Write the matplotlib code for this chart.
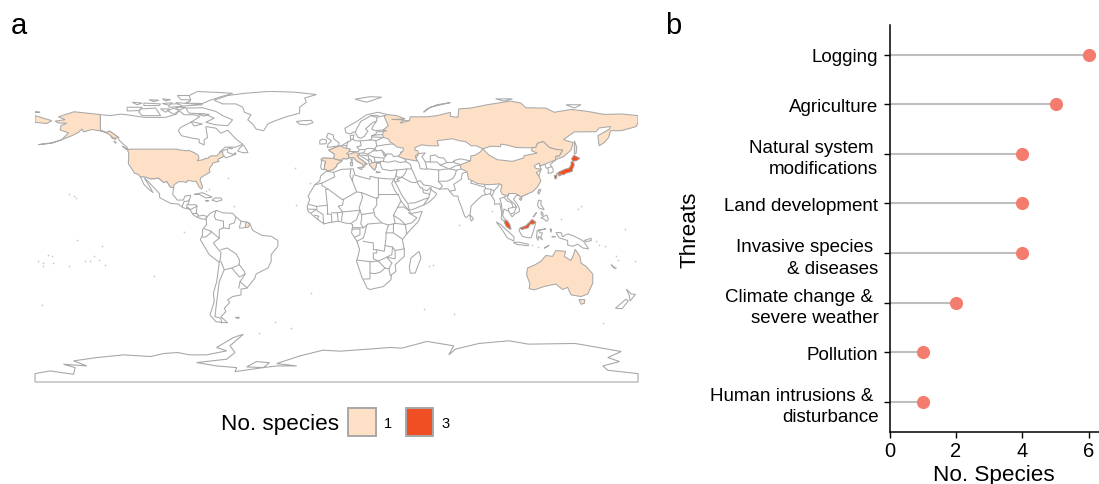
import matplotlib
matplotlib.use("Agg")
import matplotlib.pyplot as plt
from matplotlib.patches import Rectangle

plt.rcParams["font.family"] = ["Liberation Sans", "DejaVu Sans"]

threats = ["Logging", "Agriculture", "Natural system \nmodifications", "Land development",
           "Invasive species \n& diseases", "Climate change & \nsevere weather", "Pollution",
           "Human intrusions & \ndisturbance"]
species_counts = [6, 5, 4, 4, 4, 2, 1, 1]
x_ticks = [0, 2, 4, 6]
legend_levels = ["1", "3"]

# outlines in lon/lat
white_land = [
    # canada
    [(-141,69.6),(-135,69),(-129,69.9),(-125,69.5),(-115,68),(-109,67.9),(-102,68),(-95.5,69.9),(-94,72),(-91,69.5),(-85,69.5),(-81.5,68.5),(-87,65),(-93,62),(-94.5,60),(-92.5,57),(-85,55.3),(-82,55),(-82,52.9),(-79,51.5),(-79,54.5),(-77,56),(-78,62.5),(-72,61.5),(-69,58.5),(-65,60.3),(-60,55),(-56,52),(-60,50.2),(-66.5,50.2),(-70,47),(-65,49.2),(-65,47),(-61,45.7),(-66,43.7),(-67,44.8),(-74,42),(-95,42),(-123,45),(-125,50),(-130,54.5),(-130,55.9),(-135.5,59.8),(-137.5,58.9),(-141,60.3)],
    # mexico and central america
    [(-117.1,32.5),(-114.8,32.5),(-111,31.3),(-108.2,31.4),(-106.5,31.8),(-104.9,30.6),(-103.1,29),(-101.4,29.8),(-99.2,26.4),(-97.2,25.9),(-97.8,22),(-95,18.6),(-91.5,18.6),(-90.4,21),(-87,21.5),(-88,18),(-88.8,15.8),(-84,15.8),(-83.3,15),(-83.7,11),(-82,9),(-79.5,9.6),(-77.3,8.7),(-77.9,7.2),(-80.3,7.3),(-83,8.2),(-85.7,10),(-87.5,13),(-91.5,14),(-94.5,16.2),(-99,16.6),(-105.5,20),(-105.7,22.5),(-109,26),(-112.7,30),(-114.7,31.7),(-112,27.5),(-109.5,23),(-112,25),(-115,28)],
    # south america
    [(-77.3,8.7),(-75,11),(-71.5,12.4),(-68,11),(-62,10.7),(-60,8.5),(-57,6),(-52,4.9),(-50,0.5),(-44.5,-2.5),(-39,-3),(-35,-5.5),(-35,-9),(-39,-14),(-39,-18),(-41,-22),(-48,-25.5),(-48.7,-28),(-53.5,-34),(-57,-34.5),(-57,-38),(-62,-39),(-65,-41),(-63.7,-42.5),(-67,-46),(-66,-48),(-69,-51),(-65,-54.7),(-72,-54),(-75.5,-50),(-73,-42),(-73.5,-37),(-71.5,-30),(-70,-18.5),(-76,-14),(-81.3,-5),(-80,-2.5),(-80,1),(-77.5,4),(-77.9,7.2)],
    # africa
    [(-5.9,35.8),(-2,35.1),(3,36.9),(10,37.3),(11,33.5),(15,32.3),(20,31),(20,32.8),(25,31.7),(32,31.2),(34.2,31.3),(33,28.5),(35,24),(37.2,21),(38.5,18),(43.2,12.4),(44.5,10.5),(51.2,11.9),(49,6),(42,-1.5),(39.3,-5),(40.5,-11),(40.5,-15),(35,-20),(35.5,-24),(32.8,-26),(32.5,-29),(28,-33),(20,-34.8),(18.3,-34),(15,-27),(12,-18),(13.8,-11),(12.2,-6),(9,-1),(9.7,3.8),(8.5,4.6),(5.5,4.8),(1,6),(-4,5.2),(-7.6,4.4),(-13,8.5),(-17,12),(-17.5,14.7),(-16,19),(-17,21),(-13,27.7),(-10,30),(-9.5,33)],
    # eurasia, the north is hidden under russia
    [(25,71),(18,69.5),(12,65.5),(5,61.5),(5.5,59),(8,58),(10.5,59.3),(11.2,59),(12.8,56),(14.3,55.5),(16.5,56.5),(18.8,59.8),(17.2,61),(21.5,64.8),(24,65.8),(22,63),(21,61),(23,60),(28,60.5),(28,59.5),(24,59.3),(23.5,58),(21,57),(21,55),(19.5,54.4),(14.2,53.9),(11,54),(9.8,55),(10.5,57.5),(8.2,57),(8.6,54),(7,53.5),(4.5,52),(3.5,51.3),(1.6,50.9),(-1.5,49.7),(-4.7,48.4),(-1.2,46),(-1.7,43.4),(-8,43.7),(-9.2,43),(-8.9,41),(-9.5,38.7),(-8.9,37),(-6.3,36.7),(-5.3,36),(-2,36.8),(0,38.7),(0.3,40),(3.2,41.9),(4,43.5),(6,43.1),(7.5,43.8),(10.2,43.9),(12.3,41.7),(15.7,40),(16,38),(17,39.2),(16.9,40.4),(18.4,40),(16,41.9),(13.5,43.6),(12.3,45.3),(13.7,45.6),(15,44.5),(19.3,41.9),(19.4,40.3),(21.3,37.8),(22.8,36.5),(23.5,38),(24,40.8),(26,40.8),(26.2,40),(26.8,38.5),(27.5,37),(30.5,36.5),(32.5,36.1),(36,36.8),(35.8,34.5),(34.9,31.5),(34.3,31.3),(34.9,29.5),(36,27.5),(39,21.5),(42.6,16.5),(43.4,12.7),(45,12.8),(52,15.6),(55.3,17.4),(58.7,20.5),(59.8,22.5),(56.8,24.5),(56.3,26.2),(54,24.2),(51.6,25),(51.2,26.1),(50.2,25.7),(48,29.5),(50,30.2),(52,27.6),(56.5,27),(61.5,25.1),(66.5,25.4),(67.5,23.9),(70,21),(72.5,21),(72.8,19),(74.5,14.8),(76.5,9),(77.5,8.1),(79.8,10.3),(80.3,15),(85,19.5),(87,21.3),(89,21.8),(91.8,22.4),(94.3,18.5),(94.4,16),(97.5,16.5),(98.7,10.5),(98.3,8),(100.3,5.5),(101.3,2.9),(103.5,1.3),(104.2,1.4),(103.4,4),(102,6.2),(100.3,7.5),(99.2,9.3),(100,13.3),(101,12.7),(102.8,12),(104.8,8.6),(106.7,10.4),(109.2,11.7),(109.2,13.5),(108,16),(105.7,19),(107,21),(108.5,21.7),(110,20.4),(114,22.3),(120,30),(122,37),(121,40.8),(121.5,39),(124.4,40),(125,38),(126.5,37),(126.3,34.5),(129.2,35.2),(129.4,37),(127.5,39.8),(130.6,42.3),(120,55),(100,65),(60,66),(40,66),(30,69.7)],
    # black sea and caspian cut out of eurasia
    [(28,41.5),(31,41.2),(35,42),(38,41),(41.5,41.5),(41,43),(37.5,45),(34,44.5),(33,46),(30.5,46.2),(28.5,44)],
    [(49,46.3),(53,46.8),(51,44.5),(53,41.5),(54,37),(50,37.3),(49.3,40.5),(47.5,43.5)],
    # greenland
    [(-73,78.2),(-65,81),(-55,82.3),(-40,83.5),(-25,83),(-12,81.6),(-19,79.5),(-18,77),(-22,74),(-22,70.5),(-30,68.3),(-37,65.8),(-41,64),(-43.5,60),(-48,61),(-50,64),(-53,66.5),(-51,69.5),(-55,71),(-56,74),(-60,76),(-68,76)],
    # canadian arctic
    [(-90,73.5),(-80,73.7),(-72,71.5),(-68,69),(-62,66.5),(-65,63),(-72,63.5),(-78,65),(-73,67.5),(-79,70),(-88,70.5)],
    [(-90,80),(-83,83.4),(-68,82.7),(-62,82.3),(-70,80),(-76,78),(-80,76.2),(-90,76.5),(-87,78)],
    [(-117,73),(-108,73.5),(-105,69),(-116,69),(-118,71)],
    [(-125,74),(-116,74),(-118,72),(-125,71.8)],
    [(-100,76),(-93,76),(-92,74.5),(-100,74)],
    [(-115,76.5),(-105,76),(-106,75),(-115,75)],
    [(-97,73.5),(-94,72),(-97,69.8),(-101,72)],
    [(-122,77),(-116,76.5),(-119,75.5)],
    [(-95,81),(-88,81),(-87,78.5),(-93,78.5)],
    [(-96,76.8),(-80,75.5),(-92,74.7)],
    [(-104,79),(-99,78.5),(-102,77.8)],
    [(-112,78.5),(-106,78.2),(-109,77.4)],
    [(-104,76.2),(-98,76.7),(-100,75.2)],
    [(-96,74),(-90,74),(-94,72.2)],
    [(-87,65.5),(-80,64),(-85,62.8)],
    [(-83,70),(-76,69.8),(-79,68.7)],
    [(-105,73),(-100,73),(-102,71)],
    [(-133,54),(-131.5,53),(-132,52.5)],
    [(-135,57.5),(-133,56),(-131.5,54.8),(-134,55.5)],
    [(-59,47.8),(-55.5,46.8),(-52.8,47),(-55.5,51.5),(-57.5,50)],
    [(-128,50.8),(-123.5,48.4),(-125.5,48.8)],
    [(-64.5,49.9),(-61.8,49.4),(-63,49.2)],
    [(-60.5,47),(-60,46),(-61.5,45.7)],
    # europe islands and the north atlantic
    [(-24,65.5),(-22,63.9),(-18,63.5),(-14,64.8),(-15,66.2),(-20,66)],
    [(-5.5,50),(1.3,51),(1.5,52.8),(-1.5,55),(-2,57.5),(-5,58.5),(-6,56),(-3,54),(-5,52)],
    [(-10,52),(-6.2,52.2),(-6,54.5),(-8.5,55),(-10,54)],
    [(11,78.8),(20,80.3),(27,80),(18,77)],
    [(-85,22),(-80,23),(-74.2,20.3),(-78,19.9),(-82,22)],
    [(-74.4,18.5),(-72.5,19.9),(-69,19.8),(-68.4,18.6),(-71.5,17.7)],
    [(-78.3,18.4),(-76.3,18.2),(-77.3,17.8)],
    # madagascar
    [(49.3,-12),(50.4,-16),(47,-25),(44,-25),(43.5,-21),(44.5,-16)],
    # sumatra, java, borneo, sulawesi, new guinea etc
    [(95.3,5.6),(98,4),(104,-1.5),(106,-3.5),(105.8,-5.8),(102,-4),(98.5,1.5)],
    [(105.5,-6.7),(108.5,-6.5),(114.5,-7.7),(114.5,-8.7),(108,-7.9)],
    [(109,0.5),(109.6,2),(113,3.2),(116.8,7),(119,5.3),(117.8,1),(116.3,-3.8),(114.5,-4),(111,-3),(110,-1.5)],
    [(119.8,0.5),(125,1.5),(120.5,0.3),(121.5,-1),(123,-1),(122,-3.5),(123,-5.2),(120.5,-3),(120.3,-5.5),(119.4,-3.5)],
    [(131,-0.8),(134,-0.8),(135,-3.3),(138,-1.6),(141,-2.6),(145,-4.5),(147.5,-6),(150.5,-10.5),(147,-10),(144,-7.7),(141,-9),(138,-8.2),(138,-5.5),(133,-4)],
    [(120.6,18.5),(122.2,18.4),(122,16),(124,12.8),(121,13.8),(120,15.5)],
    [(122,8),(125.5,9.7),(126.5,7.2),(125.5,5.8),(123.5,7.5)],
    [(119,10.4),(118,9),(117.3,8.4),(119.4,11.3)],
    [(122.5,11.8),(123.5,10),(123,9.2),(122,10.5)],
    [(124.3,-9.8),(127,-8.4),(124,-10.2)],
    [(127.5,1.5),(128.5,1),(128,-0.7)],
    [(129,-3),(130.8,-3.3),(128.5,-3.5)],
    [(79.8,9.7),(81.8,7.5),(80.5,6),(79.8,7.5)],
    [(172.7,-40.6),(174.3,-41.5),(170.5,-46.2),(166.5,-46),(170,-43)],
    [(173,-34.5),(176,-37.5),(178.5,-37.7),(175.3,-41.6),(174.7,-38)],
    [(148,-5.5),(152,-4.2),(152.2,-5.5),(149,-6.3)],
    [(164,-20),(167,-22.4),(165.5,-21.8)],
    [(-60.5,-51.5),(-58,-51.3),(-58.5,-52.2)],
    [(95,79),(105,79),(100,77.7)],
    [(137,75.5),(146,75.5),(142,73.5)],
    [(-180,71.4),(-177,71),(-180,70.9)],
]

peach_land = [
    # usa
    [(-124.7,48.4),(-123,49),(-95.2,49),(-94.6,48.7),(-89.6,48),(-88.4,48.3),(-84.9,46.9),(-82.5,45.3),(-82.1,43.6),(-83.1,42.1),(-79,42.8),(-79,43.3),(-76.5,43.6),(-76.3,44.2),(-74.7,45),(-71.5,45),(-70.3,46.2),(-69.2,47.4),(-68,47.3),(-67.8,45.7),(-67,44.8),(-69,44),(-70.7,43),(-70.8,42),(-70,41.7),(-74,40.7),(-74.2,39.5),(-75.5,38),(-76,36.9),(-75.5,35.2),(-77.9,33.9),(-81,32),(-81.4,30.5),(-80,26.8),(-80.4,25.2),(-81.8,26),(-82.8,28),(-84,30),(-85.3,29.7),(-89,30.4),(-89.4,29.1),(-91.5,29.5),(-94,29.6),(-97,27.8),(-97.2,25.9),(-99.2,26.4),(-101.4,29.8),(-103.1,29),(-104.9,30.6),(-106.5,31.8),(-108.2,31.4),(-111,31.3),(-114.8,32.5),(-117.1,32.5),(-118.5,34),(-120.6,34.6),(-122.4,37.5),(-124.3,40.3),(-124.1,44),(-124,46.3)],
    # alaska
    [(-141,69.6),(-141,60.3),(-137.5,58.9),(-135.5,59.8),(-130,55.9),(-133,55.5),(-136,58),(-140,59.7),(-146,60.7),(-151,59.3),(-152,61),(-154,59),(-158,57),(-164,54.7),(-160,58.7),(-165,60.5),(-164.5,63),(-161,64.5),(-166,64.6),(-168,65.7),(-162,66.6),(-166,68.3),(-156.7,71.3),(-148,70.4)],
    [(-178,51.7),(-170,52.8),(-164,54.6),(-170,52.5)],
    # russia and its far eastern tail past the date line
    [(30,69.7),(28.5,68.5),(30,65),(31,63),(27.8,60.5),(30,60),(28,59.5),(27.5,57.5),(28.2,56),(31,55),(32,53.3),(34,52),(36,50.3),(40,49.6),(39.7,47.8),(38.2,47),(39,47.1),(37.5,45.5),(37,44.6),(40,43.4),(44,42.6),(48,41.9),(47.5,43.5),(47,45),(49,46.3),(48.5,48),(46.7,48.5),(47,50),(51,51.6),(55,51),(61,51),(60,54),(69,55.2),(73.5,54),(77,53.5),(80.5,51),(83.5,51),(87.3,49.2),(92,50.7),(98,50.5),(98,52),(102,51.4),(107,50),(113,49.8),(116.7,49.9),(119,50),(120,52.5),(123.5,53.5),(127,50),(130.8,48.9),(135,48.4),(133,45),(131,44.9),(130.6,42.4),(132.3,43.3),(135.5,44.5),(140,48.4),(141.3,53),(137.5,54),(135.5,54.7),(142,59.3),(155,59.4),(156.7,61.6),(163.5,62.5),(163,61),(156,57),(156.8,51),(160,53),(162.5,56),(163.5,60),(170,60),(179,62.5),(180,65),(180,69),(170,70),(160,69.7),(150,71.5),(140,72.7),(130,71),(125,73.5),(113,73.7),(110,76.5),(104,77.7),(90,75.5),(80,73.5),(73,73),(72.5,68),(68,68.5),(68,71),(60,69),(54,68.3),(44,68.3),(43.5,66),(38,64.5),(40,66.5),(33,66.7),(41,67),(36,69)],
    [(-180,65),(-173,64.3),(-170,66),(-175,67.5),(-180,69)],
    [(142,54),(143.5,50),(143,46.5),(142,46),(142,50)],
    [(52,71),(56,74),(68,76.8),(60,75.5),(54,73)],
    # china
    [(73.7,39.5),(80,42),(80.2,45),(82.5,45.3),(85.7,47.2),(87.3,49.2),(91,45.5),(96,42.7),(105,41.7),(111.8,43.7),(111.9,45),(119.8,46.7),(116.5,48),(116.7,49.9),(119,50),(120,52.5),(123.5,53.5),(127,50),(130.8,48.9),(135,48.4),(133,45),(131,44.9),(130.6,42.4),(128,41.5),(124.4,40),(121.5,39),(121,40.8),(118,39),(119,37.5),(122.5,37),(119.3,35),(121,32.5),(122,30),(120,26.5),(117,23.5),(114,22.3),(110,20.4),(108.5,21.7),(106.7,22.5),(103,22.5),(101.7,21.2),(99,22),(98,24),(98.7,27.5),(97.5,28.3),(92,27.8),(88.8,27.9),(84,28.5),(81,30.2),(78.8,31),(78,35.5),(74.5,37.2)],
    [(109,19.5),(110.8,20),(110,18.3)],
    [(121,25),(122,25),(120.8,22),(120.1,23.3)],
    # spain, france, italy, greece and islands
    [(-1.7,43.4),(-8,43.7),(-9.2,43),(-8.2,42),(-6.5,41.8),(-7,39.5),(-7.4,37.2),(-6.3,36.7),(-5.3,36),(-2,36.8),(0,38.7),(0.3,40),(3.2,41.9),(0.7,42.7)],
    [(2.5,51),(-1.5,49.7),(-4.7,48.4),(-1.2,46),(-1.7,43.4),(0.7,42.7),(3.2,42.4),(4,43.5),(6,43.1),(7.5,43.8),(7,45.9),(6,46.3),(7.6,47.6),(8.2,49),(6.2,49.5),(4.2,50)],
    [(7.5,43.8),(10.2,43.9),(12.3,41.7),(15.7,40),(16,38),(17,39.2),(16.9,40.4),(18.4,40),(16,41.9),(13.5,43.6),(12.3,45.3),(13.7,45.6),(13.7,46.5),(10.5,46.9),(7,45.9)],
    [(12.5,38),(15.5,38.2),(15,36.7)],
    [(8.2,41),(9.7,41),(9.5,39.1),(8.5,39)],
    [(8.6,43),(9.5,43),(9.2,41.4)],
    [(19.5,39.7),(21,40.9),(26,41.3),(26,40.8),(24,40.8),(23.5,38),(22.8,36.5),(21.3,37.8)],
    [(23.5,35.5),(26.2,35.2),(24.5,34.9)],
    # french guiana
    [(-54,5.8),(-51.7,4.3),(-52.7,2.3),(-54.5,2.3)],
    # australia and tasmania
    [(114,-22),(113.5,-26),(115.5,-31.5),(115,-34.3),(118,-35),(124,-33),(131,-31.5),(135,-34.8),(138,-33.5),(140,-38),(146,-39),(150,-37.5),(153,-31),(153,-25.5),(149,-21),(146,-19),(145.3,-15),(142.5,-10.8),(141.5,-14),(140,-17.5),(136,-15),(136.8,-12),(131,-11.5),(129,-15),(125,-14.5),(122,-18),(118,-20.3)],
    [(144.7,-40.8),(148.2,-40.8),(148,-43),(146,-43.6)],
]

red_land = [
    # japan
    [(140,41.5),(141.5,41.4),(142,39.5),(141,37),(140.8,35.7),(137,34.6),(135.5,33.6),(132.5,34.2),(131,34),(133,35.5),(136.8,37.2),(138.5,37.4),(140,39.5)],
    [(140.3,43.3),(141.7,45.4),(145.3,43.5),(143.2,42),(141,41.8)],
    [(130,33.3),(131.7,33.6),(131.3,31.3),(130.3,31.3)],
    [(132.5,34),(134.5,34.2),(134,33.3),(132.7,32.9)],
    # malaysia
    [(100.2,6.4),(102,6.2),(103.4,4),(104.2,1.4),(103.5,1.3),(101.3,2.9),(100.4,5)],
    [(109.6,2),(111.3,2.5),(113,3.2),(115,5),(116.8,7),(119,5.3),(117.5,4.2),(115.7,4.3),(114.5,2),(112.5,1.5),(110.5,0.9)],
]

borders = [
    # south america
    [(-72,12),(-73,9),(-72,7),(-67.5,6),(-67.5,2),(-70,1),(-70,-4.2)],
    [(-60,8.5),(-61,5),(-64,4),(-64,1.5),(-67.5,2)],
    [(-57,6),(-58,2),(-56,1.9),(-54.5,2.3)],
    [(-79,1.5),(-75,0),(-75,-1),(-78.3,-3.5),(-80.3,-3.4)],
    [(-75,0),(-70,-4.2),(-73.5,-7),(-70.5,-11),(-69,-12.5),(-69.5,-17.5),(-70,-18.5)],
    [(-69,-11),(-65.3,-10),(-60,-13.5),(-58,-17),(-58,-20),(-62.5,-22),(-67,-23),(-69,-18)],
    [(-58,-20),(-55,-24),(-54.6,-25.6),(-58,-27.3),(-62.5,-22)],
    [(-67,-23),(-70,-30),(-71,-38),(-72,-46),(-72.5,-51),(-69,-52),(-68.6,-54.9)],
    [(-54.6,-25.6),(-57.6,-30.2),(-58.4,-34)],
    [(-57.6,-30.2),(-53.4,-33.7)],
    [(-77.9,7.2),(-77.3,8.7)],
    # central america
    [(-92.2,14.5),(-91,17.8),(-89,17.9),(-88.3,18.5)],
    [(-89.2,15.9),(-89.4,14.4),(-87.8,13.4)],
    [(-89.4,14.4),(-87.5,13)],
    [(-83.3,15),(-87,13)],
    [(-83.7,11),(-85.7,11)],
    [(-82.6,9.5),(-83,8.2)],
    # africa
    [(-1.7,35),(-1,32.5),(-8.7,28.7),(-13,27.7)],
    [(-8.7,28.7),(-8.7,27.3),(-4.8,25),(3.3,19),(4.2,19),(12,23.5),(9.5,30),(8,33),(8.5,37)],
    [(-4.8,25),(-6.5,25),(-5.5,15.5),(-12,14.8),(-16.5,16)],
    [(9.5,30),(10,33.5)],
    [(12,23.5),(15,23),(24,19.5),(24,20)],
    [(25,31.7),(25,20),(24,19.5),(24,15.5),(22,13),(23,9),(27,5),(31,3.7),(35,4.7),(34,9.5),(36.5,14.3),(38.5,18)],
    [(25,22),(37,22)],
    [(15,23),(15.5,20),(13.5,14),(14,12.5),(15,10),(22,11)],
    [(4.2,19),(3.6,15.5),(1,15),(3.6,11.5),(3,6.3)],
    [(3.6,11.5),(14,12.5)],
    [(14,12.5),(12,7),(8.7,4.7)],
    [(-12,14.8),(-11.5,12.2),(-8,10),(-8,8),(-7.6,4.4)],
    [(-16.8,13.2),(-12,13),(-15,11)],
    [(-13,9.5),(-10.5,9),(-11.5,7)],
    [(-5.5,10.5),(-3,9.9),(-2.8,5.2)],
    [(-5.5,10.5),(-5.5,15.5)],
    [(-3,11),(0.5,11),(1,6)],
    [(0.5,11),(3.6,11.5)],
    [(15,10),(15,7.5),(14.5,4.5),(16,2),(18,3.5),(18.6,4.3),(27,5)],
    [(9.7,2.2),(16,2)],
    [(9.3,1.1),(14,1.4),(14,-2.2),(11,-3.5)],
    [(18,3.5),(17,-1),(16,-4),(12.2,-6)],
    [(16,-6),(22,-7),(22,-11),(24,-11),(24,-13),(22,-13),(22,-16.5),(25,-17.8),(23,-18),(21,-18.3),(12,-17.2)],
    [(24,-11),(28.5,-12),(29,-8.5),(29.5,-4.5),(29.6,-1),(31,3.7)],
    [(29.6,-1),(34,-1),(39.3,-4.7)],
    [(34,-1),(34,4.2),(35,4.7),(41,4),(42,-1.5)],
    [(41,4),(45,5),(48,8),(43,11)],
    [(34,9.5),(38,7),(41,4)],
    [(36.5,14.3),(40,14.5),(43.2,12.4)],
    [(29,-8.5),(33.5,-9.5),(35,-11.5),(40.5,-10.5)],
    [(33.5,-9.5),(33,-14),(30,-15.5),(25,-17.8)],
    [(35,-11.5),(35,-16.5),(30.3,-15.6)],
    [(33,-19),(31.3,-22.4),(32,-26),(32.8,-26.8)],
    [(25,-17.8),(29,-22),(31.3,-22.4)],
    [(20,-18),(20,-25),(20,-28.4),(16.5,-28.6)],
    [(20,-25),(23,-25.3),(26,-24.5),(29,-22)],
    [(30,-15.5),(33,-19)],
    # middle east
    [(35.8,36.5),(42,37.2),(44.8,37.2),(44.3,39.5),(44,40),(41.5,41.5)],
    [(42,37.2),(41,34.5),(39,32.2),(36.5,32.3),(35.6,33.2),(35.8,34.5)],
    [(44.8,37.2),(46,35),(48,30)],
    [(39,32.2),(44.7,29.2),(47.5,29)],
    [(35,29.5),(37.5,30),(36,31),(39,32.2)],
    [(43.3,16.7),(47,17),(52,19),(55,20),(55.6,22),(52,23),(51.5,24.6)],
    [(55,20),(52.2,16)],
    [(56.3,24.9),(55.6,22)],
    # central and south asia
    [(61,36.5),(61,31.5),(60.8,29.8),(63.3,27),(61.5,25.1)],
    [(60.8,29.8),(66.3,29.9),(69.5,31.5),(71,34),(71.5,36.4),(74.5,37.2)],
    [(53.8,37.3),(61,36.5),(64.5,37),(67.5,37.2),(71.5,36.4)],
    [(53,41.5),(56,41.3),(56,45),(59,45.5),(61,44),(64,43.7),(66,41),(69,41),(70.5,42.3),(70,41),(73.5,40),(73.7,39.5)],
    [(62,39.5),(66.5,37.5)],
    [(66,41),(62,39.5),(60,41.3),(56,41.3)],
    [(70.5,42.3),(74,43.2),(80,42)],
    [(67.5,37.2),(71,39),(73.7,39.5)],
    [(67.5,23.9),(71,24.5),(70,28),(74.5,31),(75,34.5),(78,35.5)],
    [(81,30.2),(80,28.8),(88,26.4),(88.8,27.9)],
    [(88.8,26.3),(89,25.5),(88,24.5),(89,21.8)],
    [(89,25.5),(92.3,25),(91.8,22.4)],
    [(92.3,25),(94,24),(93.3,22),(92.5,21)],
    [(94,24),(97,27.5),(97.5,28.3)],
    [(101.7,21.2),(100,20.3),(97.5,19.5),(98.5,16),(99,11)],
    [(100,20.3),(102,18),(104.5,17),(105.5,14.2),(102.5,13.6),(102.8,12)],
    [(103,22.5),(102,19.8),(106,16.5),(107.5,14.5),(105.5,14.2)],
    [(107.5,14.5),(106,11),(104.5,10.5)],
    [(126,37.8),(128.5,38.6)],
    # europe
    [(25,69),(20.5,69),(14.5,65.5),(12,61),(11.3,59)],
    [(24,65.8),(24,68),(20.5,69)],
    [(24,68),(28.5,69)],
    [(14.2,53.9),(14.7,51),(12,50.3),(13.7,48.7),(17,48.7),(18.8,49.5),(22.7,49.2),(24,50.8),(23.5,53.9),(23,54.3),(19.5,54.4)],
    [(8.7,54.9),(10,54.8)],
    [(7,53.5),(6,51),(6.2,49.5)],
    [(4.2,51.3),(6,51)],
    [(8.2,49),(7.6,47.6),(10,47.5),(13,47.5),(13.7,48.7)],
    [(9.5,47.3),(10.5,46.9)],
    [(13.7,46.5),(16,46.8),(17,48)],
    [(16,46.8),(18.5,45.9),(22,48),(22.7,49.2)],
    [(22,48),(24,48),(27,48.3),(28.2,45.5),(29.5,45)],
    [(24,48),(22.7,49.2)],
    [(27,48.3),(29.7,45.7),(28.2,45.5)],
    [(24,50.8),(28,51.5),(32,52),(34,52)],
    [(23.5,53.9),(28,56),(21,56.3)],
    [(21,57),(24.5,57.5),(27.5,57.7)],
    [(18.5,45.9),(21,44.7),(22.5,44.2),(28,43.7)],
    [(22.5,44.2),(23,41.3),(26,41.3),(28,42)],
    [(15,45.5),(19,44.9),(19.3,43),(19.3,41.9)],
    [(20.8,40.9),(21,42.3),(19.3,43)],
    [(-7,39.5),(-6.5,41.8)],
    [(26.3,41.7),(26,40.8)],
]

small_islands = [(-157,21),(-155.5,19.6),(-159.5,22),(-150,-17.6),(-140,-9),(-172,-14),(-175,-21),(-178,-18),(167,-15),(166,-21.5),(160,-9),(157,-8),(-91,-0.5),(-25,38),(-16,28.5),(-24,15.5),(57.5,-20.2),(55.5,-21),(70,-49.3),(-37,-54.3),(-15,-37),(144,13.5),(145.7,15),(134,7),(172,1.5),(-170,-14.5),(-176,-44),(-109,-27),(-76,25),(-78,24),(-65,32),(-61,15),(73,4),(93,12),(98,7.5),(120,-9.5),(117,-8.5),(-175,-19),(-169,-19),(-160,-21),(-145,-15),(-142,-17),(-147,-18),(-138,-20),(155,-6),(168,-17),(178,-17.5),(-155,-5),(-60,-62.5),(-46,-60.5),(-27,-58),(52,-46.5),(159,-54.5)]

# antarctica runs down to the frame at the bottom
antarctica_lon = [-180,-171,-157,-156,-163,-149,-157,-143,-127,-111,-103,-95,-87.5,-77.5,-65.6,-71.6,-61.6,-55.6,-63.6,-60.6,-65.6,-83.5,-71.6,-59.6,-60.6,-43.7,-53.6,-47.7,-40,-43.7,-35.7,-23.8,-35.7,-21.8,-8,2,19,32,39,54,70,67,71,85,103,114.5,142.4,154,170,162,169,159,162,180,180,-180]
antarctica_lat = [-85,-83.4,-85.4,-81.4,-79.4,-80.4,-77.4,-75.4,-73.8,-74.8,-73,-72.4,-73.8,-73.8,-71.4,-69.4,-63.5,-61.5,-68.4,-72.4,-76.4,-78.4,-80.4,-81.4,-83.8,-81.4,-81,-77.8,-78.5,-81.4,-80.4,-80.4,-79,-74.4,-71,-71.6,-70.4,-69.4,-69.8,-65.8,-68.4,-73.8,-70.4,-67,-65.4,-67.4,-67,-69,-71.8,-75.4,-77.8,-80.4,-83,-85,-90,-90]

fig = plt.figure(figsize=(10.99, 4.85), dpi=100)

# panel a, plate carree at 1.675 px per degree
ax_map = fig.add_axes([35 / 1099, 1 - 383 / 485, 603 / 1099, 291.5 / 485])
edge = "#a8a8a8"
for poly in white_land:
    xs, ys = zip(*poly)
    ax_map.fill(xs, ys, facecolor="white", edgecolor=edge, linewidth=0.75, zorder=1)
for line in borders:
    xs, ys = zip(*line)
    ax_map.plot(xs, ys, color=edge, linewidth=0.75, zorder=2)
for poly in peach_land:
    xs, ys = zip(*poly)
    ax_map.fill(xs, ys, facecolor="#fde0c5", edgecolor=edge, linewidth=0.75, zorder=3)
for poly in red_land:
    xs, ys = zip(*poly)
    ax_map.fill(xs, ys, facecolor="#f04e23", edgecolor=edge, linewidth=0.6, zorder=4)
ax_map.scatter(*zip(*small_islands), s=1.5, color="#c8c8c8", linewidths=0, zorder=2)
ax_map.fill(antarctica_lon, antarctica_lat, facecolor="white", edgecolor=edge, linewidth=0.8, zorder=1, clip_on=False)
ax_map.set_xlim(-180, 180)
ax_map.set_ylim(-90, 84)
ax_map.axis("off")

# panel b
ax = fig.add_axes([889.5 / 1099, 1 - 432.5 / 485, 209.2 / 1099, 406.5 / 485])
y_pos = list(range(len(threats)))
ax.hlines(y_pos, 0, species_counts, color="#bebebe", linewidth=1.5, zorder=1)
ax.scatter(species_counts, y_pos, s=90, color="#f47c6e", linewidths=0, zorder=2, clip_on=False)
ax.set_xlim(0, 6.3)
ax.set_ylim(7.6, -0.6)
ax.set_yticks(y_pos)
ax.set_yticklabels(threats, fontsize=13.5, linespacing=1.35)
ax.set_xticks(x_ticks)
ax.tick_params(axis="x", labelsize=14.5, width=1, length=4, pad=2.5)
ax.tick_params(axis="y", width=1, length=4, pad=4)
ax.set_xlabel("No. Species", fontsize=16.2, labelpad=3)
ax.set_ylabel("Threats", fontsize=16.2)
ax.yaxis.set_label_coords(-0.905, 0.5)
ax.spines["top"].set_visible(False)
ax.spines["right"].set_visible(False)
for s in ["left", "bottom"]:
    ax.spines[s].set_linewidth(1.1)

# panel letters and the legend
fig.text(11 / 1099, 1 - 34 / 485, "a", fontsize=21)
fig.text(665 / 1099, 1 - 34 / 485, "b", fontsize=21)
fig.text(221 / 1099, 1 - 424.5 / 485, "No. species", fontsize=16.2, va="center")
key_colors = ["#fde0c5", "#f04e23"]
key_left = [348, 406]
for left, color, level in zip(key_left, key_colors, legend_levels):
    fig.add_artist(Rectangle((left / 1099, 1 - 436.5 / 485), 27.5 / 1099, 27.5 / 485,
                             facecolor=color, edgecolor="#a8a8a8", linewidth=1.4,
                             transform=fig.transFigure))
    fig.text((left + 40) / 1099, 1 - 424 / 485, level, fontsize=10.5, va="center", ha="center")

fig.savefig("out.png", dpi=100)
